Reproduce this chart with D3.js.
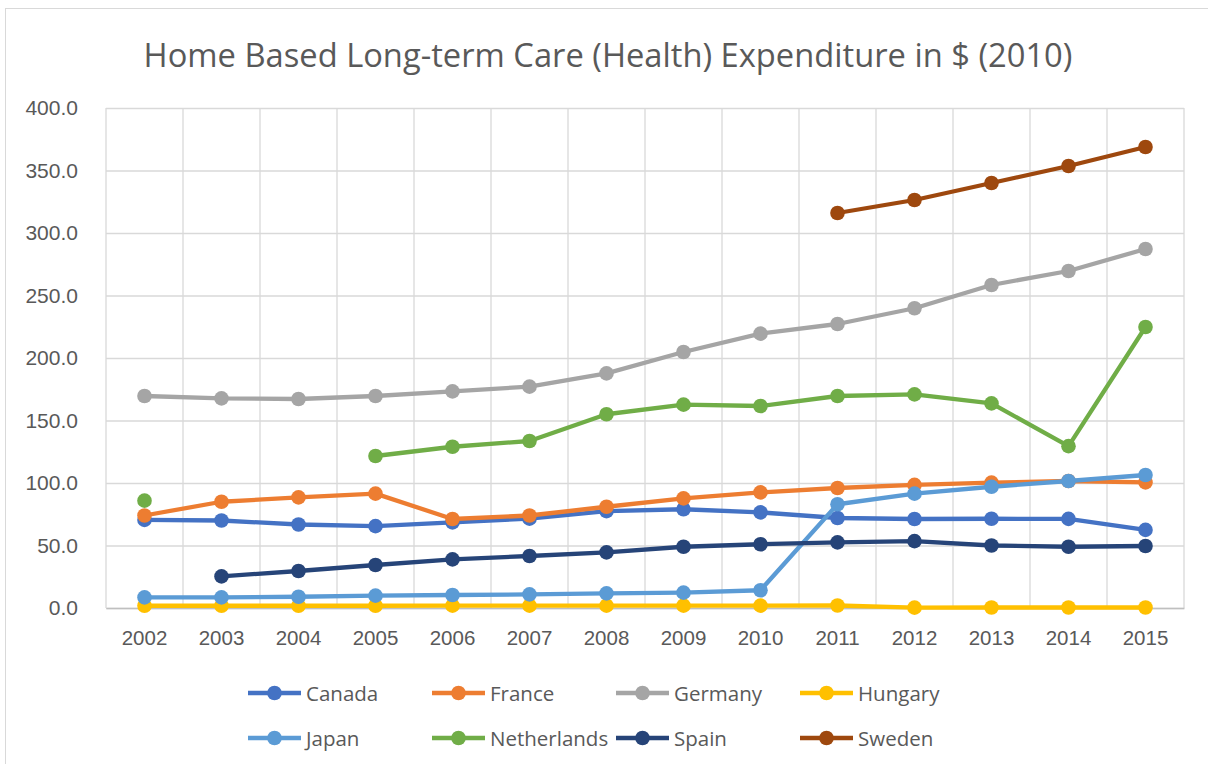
<!DOCTYPE html>
<html>
<head>
<meta charset="utf-8">
<script src="https://cdn.jsdelivr.net/npm/d3@7/dist/d3.min.js"></script>
<style>
  body { margin: 0; background: #fff; }
  svg { display: block; font-family: "Open Sans", sans-serif; }
</style>
</head>
<body>
<div id="chart"></div>
<script>
// ================================
// Data
// ================================
const years = ['2002', '2003', '2004', '2005', '2006', '2007', '2008',
  '2009', '2010', '2011', '2012', '2013', '2014', '2015'];
const yTicks = [0, 50, 100, 150, 200, 250, 300, 350, 400];

const canada = [70.5, 70, 66.8, 65.5, 68.5, 71.5, 77.5, 79, 76.5, 72, 71.2, 71.4, 71.3, 62.5];
const france = [74, 85, 88.5, 91.5, 71.2, 74, 81, 87.7, 92.5, 96, 98.5, 100.3, 101.6, 100.5];
const germany = [169.6, 167.7, 167.2, 169.6, 173.3, 177.1, 187.7, 204.8, 219.5, 227.2, 239.8, 258.4, 269.6, 287.2];
const hungary = [1.8, 1.8, 1.8, 1.8, 1.9, 1.9, 1.9, 1.9, 1.9, 2.0, 0.3, 0.4, 0.4, 0.4];
const japan = [8.5, 8.5, 9, 9.9, 10.4, 10.9, 11.7, 12.3, 14.2, 83, 91.5, 97, 101.6, 106.4];
const netherlands = [85.9, null, null, 121.6, 129, 133.6, 155, 162.7, 161.6, 169.6, 170.9, 163.7, 129.5, 224.8];
const spain = [null, 25.3, 29.6, 34.4, 38.9, 41.6, 44.5, 49, 51, 52.5, 53.5, 50, 49, 49.6];
const sweden = [null, null, null, null, null, null, null, null, null, 316, 326.4, 340, 353.6, 368.8];

const series = [
  { name: 'Canada', color: '#4472C4', values: canada },
  { name: 'France', color: '#ED7D31', values: france },
  { name: 'Germany', color: '#A5A5A5', values: germany },
  { name: 'Hungary', color: '#FFC000', values: hungary },
  { name: 'Japan', color: '#5B9BD5', values: japan },
  { name: 'Netherlands', color: '#70AD47', values: netherlands },
  { name: 'Spain', color: '#264478', values: spain },
  { name: 'Sweden', color: '#9E480E', values: sweden }
];

// ================================
// Layout
// ================================
const W = 1208, H = 764;
const plot = { left: 106, right: 1184, top: 108, bottom: 608 };

const svg = d3.select('#chart').append('svg')
  .attr('width', W)
  .attr('height', H);

// Chart frame
svg.append('rect')
  .attr('x', 5.5).attr('y', 8.5)
  .attr('width', W + 20).attr('height', H + 20)
  .attr('fill', '#fff')
  .attr('stroke', '#d9d9d9');

const x = d3.scaleBand()
  .domain(years)
  .range([plot.left, plot.right]);

const y = d3.scaleLinear()
  .domain([0, 400])
  .range([plot.bottom, plot.top]);

// Title
svg.append('text')
  .attr('x', 608)
  .attr('y', 67)
  .attr('text-anchor', 'middle')
  .attr('fill', '#595959')
  .attr('font-size', '32.7px')
  .text('Home Based Long-term Care (Health) Expenditure in $ (2010)');

// Horizontal gridlines + y labels
const yAxis = d3.axisLeft(y)
  .tickValues(yTicks)
  .tickSize(-(plot.right - plot.left))
  .tickPadding(28)
  .tickFormat(d3.format('.1f'));

svg.append('g')
  .attr('transform', `translate(${plot.left},0)`)
  .call(yAxis)
  .call(g => g.select('.domain').remove())
  .call(g => g.selectAll('.tick line').attr('stroke', '#d9d9d9').attr('stroke-width', 1.3))
  .call(g => g.selectAll('.tick text')
    .attr('fill', '#595959')
    .attr('font-size', '21px'));

// Vertical gridlines at category boundaries
const bounds = years.map(d => x(d)).concat([x(years[years.length - 1]) + x.bandwidth()]);
svg.append('g')
  .selectAll('line')
  .data(bounds)
  .join('line')
  .attr('x1', d => d).attr('x2', d => d)
  .attr('y1', plot.top).attr('y2', plot.bottom)
  .attr('stroke', '#d9d9d9')
  .attr('stroke-width', 1.3);

// X axis
const xAxis = d3.axisBottom(x).tickSize(0).tickPadding(22);
svg.append('g')
  .attr('transform', `translate(0,${plot.bottom})`)
  .call(xAxis)
  .call(g => g.select('.domain').attr('stroke', '#bfbfbf').attr('stroke-width', 1.5))
  .call(g => g.selectAll('.tick text')
    .attr('fill', '#595959')
    .attr('font-size', '20.5px'));

// Lines and markers
const cx = i => x(years[i]) + x.bandwidth() / 2;
const line = d3.line()
  .defined(d => d != null)
  .x((d, i) => cx(i))
  .y(d => y(d));

series.forEach(s => {
  const g = svg.append('g');
  g.append('path')
    .datum(s.values)
    .attr('fill', 'none')
    .attr('stroke', s.color)
    .attr('stroke-width', 4.3)
    .attr('stroke-linejoin', 'round')
    .attr('d', line);

  g.selectAll('circle')
    .data(s.values.map((v, i) => ({ v, i })).filter(d => d.v != null))
    .join('circle')
    .attr('cx', d => cx(d.i))
    .attr('cy', d => y(d.v))
    .attr('r', 7.3)
    .attr('fill', s.color);
});

// Legend
const legend = svg.append('g');
series.forEach((s, i) => {
  const col = i % 4, row = Math.floor(i / 4);
  const lx = 248 + col * 184;
  const ly = 693 + row * 45;
  legend.append('line')
    .attr('x1', lx).attr('x2', lx + 53)
    .attr('y1', ly).attr('y2', ly)
    .attr('stroke', s.color)
    .attr('stroke-width', 4.3);
  legend.append('circle')
    .attr('cx', lx + 26.5).attr('cy', ly)
    .attr('r', 7.3)
    .attr('fill', s.color);
  legend.append('text')
    .attr('x', lx + 58)
    .attr('y', ly + 7.5)
    .attr('fill', '#595959')
    .attr('font-size', '20.5px')
    .text(s.name);
});
</script>
</body>
</html>
